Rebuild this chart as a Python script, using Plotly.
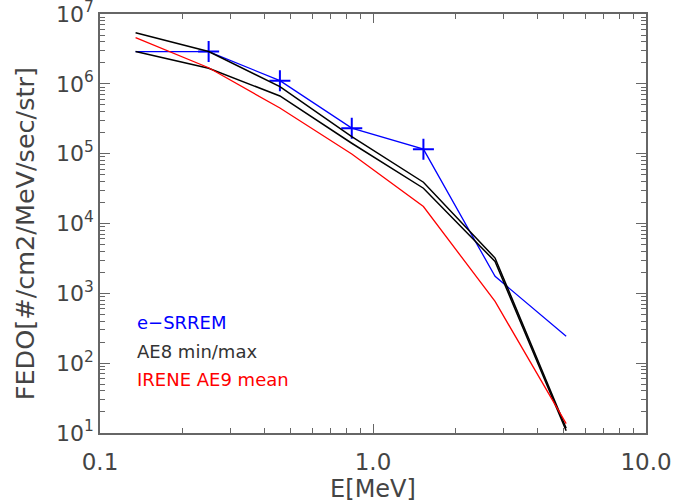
import numpy as np
import plotly.graph_objects as go

# Energies [MeV]
energy = [0.135, 0.25, 0.456, 0.836, 1.53, 2.80, 5.10]

# e-SRREM (blue)
srrem = [2.9e6, 2.9e6, 1.11e6, 2.32e5, 1.16e5, 1.75e3, 2.42e2]
srrem_marker_x = [0.25, 0.456, 0.836, 1.53]
srrem_marker_y = [2.9e6, 1.11e6, 2.32e5, 1.16e5]

# AE8 max / min (black)
ae8_max = [5.4e6, 2.9e6, 9.1e5, 1.76e5, 3.9e4, 3.2e3, 11.7]
ae8_min = [2.9e6, 1.67e6, 6.7e5, 1.41e5, 3.2e4, 2.86e3, 10.8]

# IRENE AE9 mean (red)
ae9_mean = [4.6e6, 1.7e6, 4.5e5, 9.9e4, 1.75e4, 7.66e2, 13.6]

x_tickvals = [0.1, 1.0, 10.0]
x_ticktext = ["0.1", "1.0", "10.0"]
y_exponents = [1, 2, 3, 4, 5, 6, 7]

fig = go.Figure()
fig.add_trace(go.Scatter(x=energy, y=srrem, mode="lines",
                         line=dict(color="#0000ff", width=1.3), showlegend=False))
fig.add_trace(go.Scatter(x=srrem_marker_x, y=srrem_marker_y, mode="markers",
                         marker=dict(symbol="cross-thin", size=15,
                                     line=dict(color="#0000ff", width=2)),
                         showlegend=False))
fig.add_trace(go.Scatter(x=energy, y=ae8_max, mode="lines",
                         line=dict(color="#000000", width=1.5), showlegend=False))
fig.add_trace(go.Scatter(x=energy, y=ae8_min, mode="lines",
                         line=dict(color="#000000", width=1.5), showlegend=False))
fig.add_trace(go.Scatter(x=energy, y=ae9_mean, mode="lines",
                         line=dict(color="#ff0000", width=1.3), showlegend=False))

font_family = "DejaVu Sans"
axis_color = "#666666"
text_color = "#444444"

x_minor = [m * 10.0 ** d for d in (-1, 0) for m in range(2, 10)]
y_minor = [m * 10.0 ** d for d in range(1, 7) for m in range(2, 10)]

fig.update_xaxes(
    type="log", range=[-1, 1],
    tickvals=x_tickvals, ticktext=x_ticktext,
    ticks="inside", ticklen=9, tickwidth=1.3, tickcolor=axis_color,
    minor=dict(tickvals=x_minor, ticks="inside", ticklen=5, tickwidth=1.3,
               tickcolor=axis_color, showgrid=False),
    showline=True, linecolor=axis_color, linewidth=1.6, mirror="allticks",
    showgrid=False, zeroline=False, ticklabeloverflow="allow",
    ticklabelstandoff=8,
    tickfont=dict(family=font_family, size=23, color=text_color),
    title=dict(text="E[MeV]", font=dict(family=font_family, size=24, color=text_color),
               standoff=4),
    automargin=False,
)
fig.update_yaxes(
    type="log", range=[1, 7],
    tickvals=[10.0 ** e for e in y_exponents],
    ticktext=[f"10<sup>{e}</sup>" for e in y_exponents],
    ticks="inside", ticklen=10, tickwidth=1.3, tickcolor=axis_color,
    minor=dict(tickvals=y_minor, ticks="inside", ticklen=5, tickwidth=1.3,
               tickcolor=axis_color, showgrid=False),
    showline=True, linecolor=axis_color, linewidth=1.6, mirror="allticks",
    showgrid=False, zeroline=False, ticklabeloverflow="allow",
    tickfont=dict(family=font_family, size=22, color=text_color),
    automargin=False,
)

# y-axis title as a rotated annotation (centred slightly below the plot middle)
fig.add_annotation(text="FEDO[#/cm2/MeV/sec/str]", xref="paper", yref="paper",
                   x=-0.137, y=0.475, xanchor="center", yanchor="middle",
                   textangle=-90, showarrow=False,
                   font=dict(family=font_family, size=25.5, color=text_color))

legend_items = [("e\u2212SRREM", "#0000ff"), ("AE8 min/max", "#333333"),
                ("IRENE AE9 mean", "#ff0000")]
legend_y = [0.263, 0.194, 0.127]
for (txt, col), yy in zip(legend_items, legend_y):
    fig.add_annotation(text=txt, xref="paper", yref="paper", x=0.064, y=yy,
                       xanchor="left", yanchor="middle", showarrow=False,
                       font=dict(family=font_family, size=18, color=col))

fig.update_layout(
    width=674, height=504,
    margin=dict(l=100, r=28, t=14, b=71),
    paper_bgcolor="white", plot_bgcolor="white",
)

fig.write_html("out.html")
